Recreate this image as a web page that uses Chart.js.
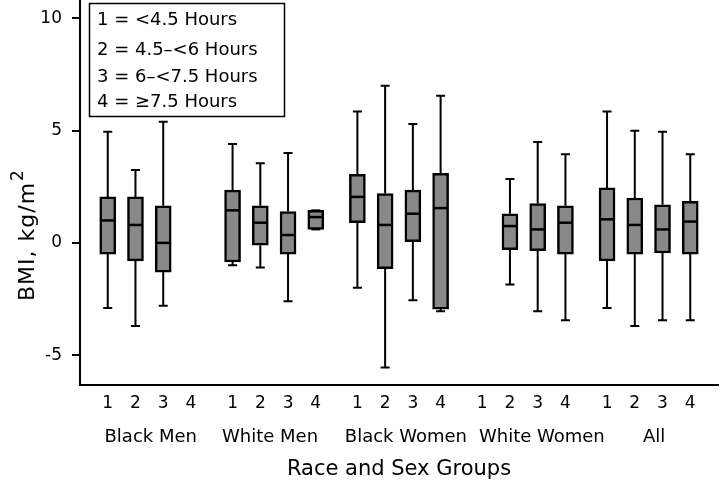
<!DOCTYPE html>
<html>
<head>
<meta charset="utf-8">
<script src="https://cdn.jsdelivr.net/npm/chart.js@4.4.1/dist/chart.umd.min.js"></script>
<style>
    html, body { margin: 0; padding: 0; background: #fff; }
</style>
</head>
<body>
<canvas id="bmi-chart" width="720" height="487"></canvas>
<script>
// Groups and sleep-duration codes
const groups = ['Black Men', 'White Men', 'Black Women', 'White Women', 'All'];
const sleepCodes = ['1', '2', '3', '4'];
// where each group name sits on the x scale
const groupLabelPos = [1.55, 5.85, 10.75, 15.65, 19.7];
const legendLines = ['1 = <4.5 Hours', '2 = 4.5\u2013<6 Hours', '3 = 6\u2013<7.5 Hours', '4 = \u22657.5 Hours'];
const yTicks = [-5, 0, 5, 10];

// box statistics, 4 codes per group in order (null = no box drawn)
const whiskerLow  = [-2.9, -3.7, -2.8, null,   -1.0, -1.1, -2.6, 0.6,   -2.0, -5.55, -2.55, -3.05,   null, -1.85, -3.05, -3.45,   -2.9, -3.7, -3.45, -3.45];
const quart1      = [-0.5, -0.8, -1.3, null,   -0.85, -0.1, -0.5, 0.6,   0.9, -1.15, 0.05, -2.95,    null, -0.3, -0.35, -0.5,     -0.8, -0.5, -0.45, -0.5];
const median      = [1.0, 0.8, 0.0, null,      1.45, 0.9, 0.35, 1.15,    2.05, 0.8, 1.3, 1.55,       null, 0.75, 0.6, 0.9,        1.05, 0.8, 0.6, 0.95];
const quart3      = [2.05, 2.05, 1.65, null,   2.35, 1.65, 1.4, 1.45,    3.05, 2.2, 2.35, 3.1,       null, 1.3, 1.75, 1.65,       2.45, 2.0, 1.7, 1.85];
const whiskerHigh = [4.95, 3.25, 5.4, null,    4.4, 3.55, 4.0, 1.45,     5.85, 7.0, 5.3, 6.55,       null, 2.85, 4.5, 3.95,       5.85, 5.0, 4.95, 3.95];

const GROUP_STEP = 4.5;
const FONT = "'DejaVu Sans', sans-serif";

// x position of every box on the linear scale
const xPos = [];
groups.forEach(function(g, gi) {
    sleepCodes.forEach(function(c, ci) {
        xPos.push(gi * GROUP_STEP + ci);
    });
});

const boxData = [];
xPos.forEach(function(x, i) {
    if (quart1[i] !== null) {
        boxData.push({ x: x, y: [quart1[i], quart3[i]] });
    }
});

/**
 * Whiskers (behind boxes) and medians (on top)
 */
const boxPlotPlugin = {
    id: 'boxPlot',
    beforeDatasetsDraw: function(chart) {
        const ctx = chart.ctx;
        const xs = chart.scales.x;
        const ys = chart.scales.y;
        ctx.save();
        ctx.strokeStyle = '#000';
        ctx.lineWidth = 2;
        xPos.forEach(function(x, i) {
            if (quart1[i] === null) return;
            const px = xs.getPixelForValue(x);
            [[whiskerLow[i], quart1[i]], [whiskerHigh[i], quart3[i]]].forEach(function(pair) {
                const yEnd = ys.getPixelForValue(pair[0]);
                const yBox = ys.getPixelForValue(pair[1]);
                ctx.beginPath();
                ctx.moveTo(px, yBox);
                ctx.lineTo(px, yEnd);
                ctx.moveTo(px - 4.5, yEnd);
                ctx.lineTo(px + 4.5, yEnd);
                ctx.stroke();
            });
        });
        ctx.restore();
    },
    afterDatasetsDraw: function(chart) {
        const ctx = chart.ctx;
        const xs = chart.scales.x;
        const ys = chart.scales.y;
        ctx.save();
        ctx.strokeStyle = '#000';
        ctx.lineWidth = 2.5;
        xPos.forEach(function(x, i) {
            if (median[i] === null) return;
            const px = xs.getPixelForValue(x);
            const py = ys.getPixelForValue(median[i]);
            ctx.beginPath();
            ctx.moveTo(px - 7, py);
            ctx.lineTo(px + 7, py);
            ctx.stroke();
        });
        ctx.restore();
    },
    afterDraw: function(chart) {
        const ctx = chart.ctx;
        const area = chart.chartArea;
        ctx.save();

        // legend box for sleep codes
        ctx.strokeStyle = '#000';
        ctx.lineWidth = 1.5;
        ctx.strokeRect(area.left + 9.5, 3.5, 195, 113);
        ctx.fillStyle = '#000';
        ctx.font = '18px ' + FONT;
        ctx.textBaseline = 'middle';
        ctx.textAlign = 'left';
        const lineY = [20, 50, 77, 102];
        legendLines.forEach(function(t, i) {
            ctx.fillText(t, area.left + 17, lineY[i]);
        });

        // y axis title with superscript
        ctx.translate(34, 301);
        ctx.rotate(-Math.PI / 2);
        ctx.textBaseline = 'alphabetic';
        ctx.font = '22px ' + FONT;
        ctx.letterSpacing = '1px';
        const main = 'BMI, kg/m';
        ctx.fillText(main, 0, 0);
        const w = ctx.measureText(main).width;
        ctx.font = '17px ' + FONT;
        ctx.fillText('2', w + 1, -11);
        ctx.restore();
    }
};

const ctx = document.getElementById('bmi-chart').getContext('2d');

new Chart(ctx, {
    type: 'bar',
    data: {
        datasets: [{
            data: boxData,
            backgroundColor: '#888888',
            borderColor: '#000',
            borderWidth: 2.5,
            borderSkipped: false,
            barThickness: 16
        }]
    },
    options: {
        responsive: false,
        animation: false,
        layout: { padding: { left: 0, right: 2, top: 0, bottom: 0 } },
        plugins: {
            legend: { display: false },
            tooltip: { enabled: false }
        },
        scales: {
            x: {
                type: 'linear',
                min: -1,
                max: 22,
                offset: false,
                weight: 1,
                grid: { display: false, drawTicks: false, offset: false },
                border: { display: true, color: '#000', width: 2 },
                afterBuildTicks: function(axis) {
                    axis.ticks = xPos.map(function(v) { return { value: v }; });
                },
                afterFit: function(axis) { axis.height = 30; },
                ticks: {
                    autoSkip: false,
                    maxRotation: 0,
                    padding: 8,
                    color: '#000',
                    font: { family: FONT, size: 17 },
                    callback: function(value, index) {
                        return sleepCodes[index % sleepCodes.length];
                    }
                }
            },
            x2: {
                type: 'linear',
                position: 'bottom',
                min: -1,
                max: 22,
                offset: false,
                weight: 2,
                grid: { display: false, drawTicks: false, offset: false },
                border: { display: false },
                afterBuildTicks: function(axis) {
                    axis.ticks = groupLabelPos.map(function(v) { return { value: v }; });
                },
                afterFit: function(axis) { axis.height = 72; },
                ticks: {
                    autoSkip: false,
                    maxRotation: 0,
                    padding: 12,
                    color: '#000',
                    font: { family: FONT, size: 18 },
                    callback: function(value, index) {
                        return groups[index];
                    }
                },
                title: {
                    display: true,
                    text: 'Race and Sex Groups',
                    color: '#000',
                    font: { family: FONT, size: 21 },
                    padding: 5
                }
            },
            y: {
                min: -6.33,
                max: 10.82,
                grid: {
                    display: true,
                    drawOnChartArea: false,
                    drawTicks: true,
                    tickLength: 8,
                    color: '#000',
                    lineWidth: 2
                },
                border: { display: true, color: '#000', width: 2 },
                afterBuildTicks: function(axis) {
                    axis.ticks = yTicks.map(function(v) { return { value: v }; });
                },
                afterFit: function(axis) {
                    axis.width = 80;
                    axis.paddingTop = 0;
                    axis.paddingBottom = 0;
                },
                ticks: {
                    padding: 10,
                    color: '#000',
                    font: { family: FONT, size: 17 }
                }
            }
        }
    },
    plugins: [boxPlotPlugin]
});
</script>
</body>
</html>
